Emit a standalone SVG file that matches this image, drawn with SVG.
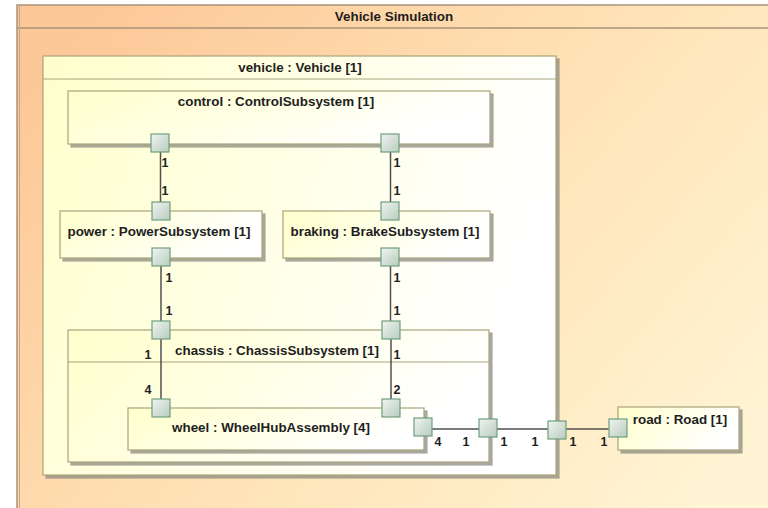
<svg xmlns="http://www.w3.org/2000/svg" width="768" height="508" viewBox="0 0 768 508">
<defs>
<linearGradient id="gFrame" x1="0" y1="0.2" x2="1" y2="0.8">
<stop offset="0" stop-color="#fdc898"/>
<stop offset="0.55" stop-color="#ffe4b8"/>
<stop offset="1" stop-color="#fff4d4"/>
</linearGradient>
<linearGradient id="gBox" x1="0" y1="0" x2="1" y2="0.3">
<stop offset="0" stop-color="#ffffcc"/>
<stop offset="1" stop-color="#ffffff"/>
</linearGradient>
<linearGradient id="gPort" x1="0" y1="0" x2="1" y2="1">
<stop offset="0" stop-color="#f0f4f1"/>
<stop offset="1" stop-color="#b8ccbe"/>
</linearGradient>
<filter id="sh" x="-5%" y="-5%" width="115%" height="120%">
<feOffset dx="3" dy="3" in="SourceAlpha" result="o"/>
<feFlood flood-color="#8a8a80" flood-opacity="0.75"/>
<feComposite in2="o" operator="in" result="s"/>
<feMerge><feMergeNode in="s"/><feMergeNode in="SourceGraphic"/></feMerge>
</filter>
</defs>
<style>
.box{fill:url(#gBox);stroke:#a8a47c;stroke-width:1.2}
.frame{fill:url(#gFrame);stroke:#a8927a;stroke-width:1.5}
.sep{stroke:#a8927a;stroke-width:1.5;fill:none}
.bsep{stroke:#a8a47c;stroke-width:1.2;fill:none}
.port{fill:url(#gPort);stroke:#6f9e7e;stroke-width:1.2}
.t{font-family:"Liberation Sans",Arial,sans-serif;font-weight:bold;font-size:13.4px;fill:#1e1e1e;text-anchor:middle}
.m{font-family:"Liberation Sans",Arial,sans-serif;font-weight:bold;font-size:12.5px;fill:#1e1e1e;text-anchor:middle}
.c{stroke:#505050;stroke-width:1.5;fill:none}
</style>
<rect x="0" y="0" width="768" height="508" fill="#ffffff"/>
<g id="frame">
<rect class="frame" x="17" y="5" width="760" height="515"/>
<line class="sep" x1="17" y1="28" x2="768" y2="28"/>
<line x1="19.5" y1="5" x2="19.5" y2="508" stroke="#c9a582" stroke-width="1"/>
<text class="t" x="394" y="21">Vehicle Simulation</text>
</g>
<g id="vehicle">
<rect class="box" x="43" y="56" width="513" height="419" filter="url(#sh)"/>
<line class="bsep" x1="43" y1="79" x2="556" y2="79"/>
<text class="t" x="300" y="72">vehicle : Vehicle [1]</text>
</g>
<g id="control">
<rect class="box" x="68" y="91" width="422" height="53" filter="url(#sh)"/>
<text class="t" x="276" y="106">control : ControlSubsystem [1]</text>
</g>
<g id="power">
<rect class="box" x="60" y="211" width="202" height="47" filter="url(#sh)"/>
<text class="t" x="159" y="236">power : PowerSubsystem [1]</text>
</g>
<g id="braking">
<rect class="box" x="283" y="211" width="207" height="47" filter="url(#sh)"/>
<text class="t" x="385" y="236">braking : BrakeSubsystem [1]</text>
</g>
<g id="chassis">
<rect class="box" x="68" y="330" width="421" height="132" filter="url(#sh)"/>
<line class="bsep" x1="68" y1="362" x2="489" y2="362"/>
<text class="t" x="277" y="355">chassis : ChassisSubsystem [1]</text>
</g>
<g id="wheel">
<rect class="box" x="128" y="408" width="296" height="42" filter="url(#sh)"/>
<text class="t" x="271" y="432">wheel : WheelHubAssembly [4]</text>
</g>
<g id="road">
<rect class="box" x="618" y="407" width="121" height="43" filter="url(#sh)"/>
<text class="t" x="680" y="424">road : Road [1]</text>
</g>
<g id="connectors">
<line class="c" x1="160.5" y1="152" x2="160.5" y2="202"/>
<line class="c" x1="390.5" y1="152" x2="390.5" y2="202"/>
<line class="c" x1="161" y1="266" x2="161" y2="321"/>
<line class="c" x1="390.5" y1="266" x2="390.5" y2="321"/>
<line class="c" x1="161" y1="339" x2="161" y2="399"/>
<line class="c" x1="391" y1="339" x2="391" y2="399"/>
<line class="c" x1="432" y1="429" x2="609" y2="429"/>
<text class="m" x="165" y="167">1</text>
<text class="m" x="165" y="195">1</text>
<text class="m" x="397" y="167">1</text>
<text class="m" x="397" y="195">1</text>
<text class="m" x="169" y="282">1</text>
<text class="m" x="169" y="315">1</text>
<text class="m" x="397" y="282">1</text>
<text class="m" x="397" y="315">1</text>
<text class="m" x="148" y="359">1</text>
<text class="m" x="148" y="394">4</text>
<text class="m" x="397" y="359">1</text>
<text class="m" x="397" y="394">2</text>
<text class="m" x="438" y="446">4</text>
<text class="m" x="466" y="446">1</text>
<text class="m" x="504" y="446">1</text>
<text class="m" x="535" y="446">1</text>
<text class="m" x="573" y="446">1</text>
<text class="m" x="604" y="446">1</text>
</g>
<g id="ports">
<rect class="port" x="151" y="134" width="18" height="18"/>
<rect class="port" x="381" y="134" width="18" height="18"/>
<rect class="port" x="152" y="202" width="18" height="18"/>
<rect class="port" x="152" y="248" width="18" height="18"/>
<rect class="port" x="381" y="202" width="18" height="18"/>
<rect class="port" x="381" y="248" width="18" height="18"/>
<rect class="port" x="152" y="321" width="18" height="18"/>
<rect class="port" x="382" y="321" width="18" height="18"/>
<rect class="port" x="152" y="399" width="18" height="18"/>
<rect class="port" x="382" y="399" width="18" height="18"/>
<rect class="port" x="414" y="418" width="18" height="18"/>
<rect class="port" x="479" y="419" width="18" height="18"/>
<rect class="port" x="548" y="421" width="18" height="18"/>
<rect class="port" x="609" y="419" width="18" height="18"/>
</g>
</svg>
